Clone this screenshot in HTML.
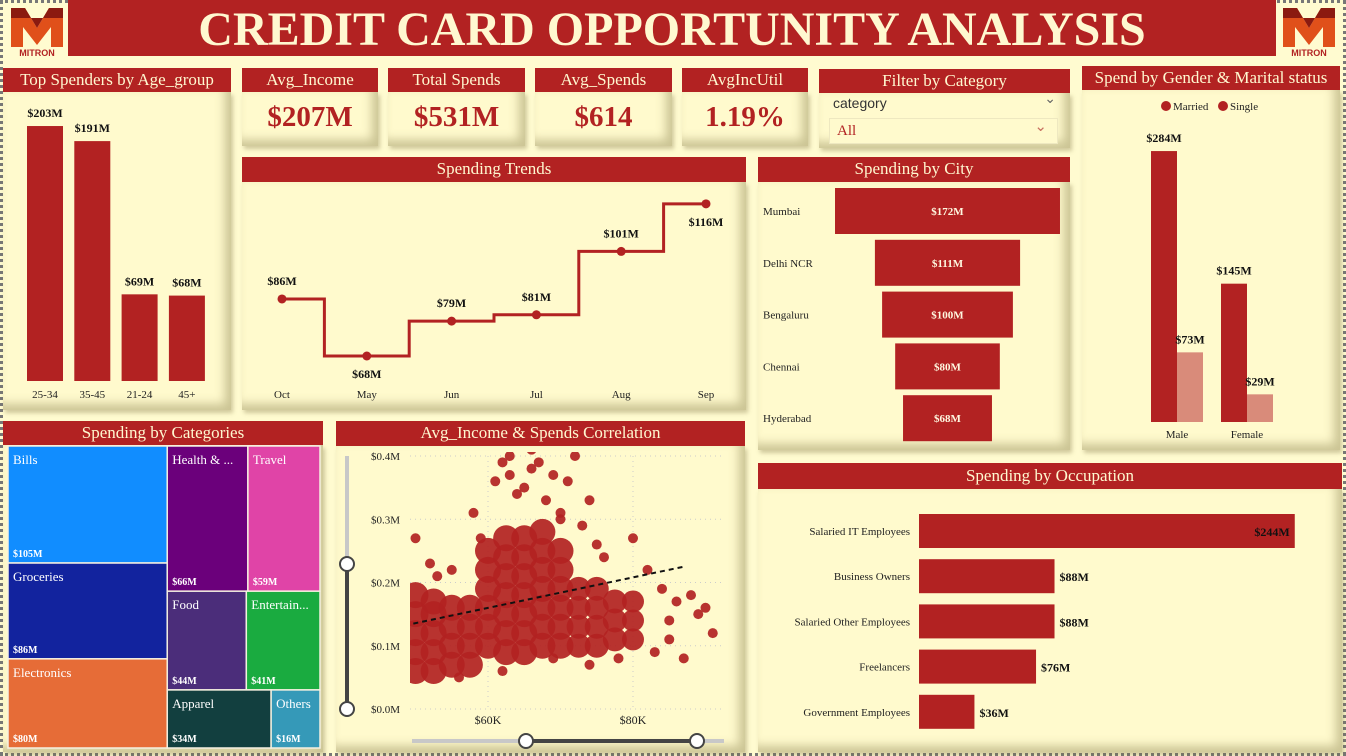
<!DOCTYPE html>
<html><head><meta charset="utf-8"><style>
*{box-sizing:border-box;margin:0;padding:0}
body{width:1346px;height:756px;background:#fffbd0;font-family:"Liberation Serif",serif;position:relative;overflow:hidden}
.frame{position:absolute;left:0;top:0;width:1346px;height:756px;border:3px dotted #777;pointer-events:none}
.hdr{position:absolute;background:#b22222;color:#fff8d0;text-align:center;font-size:17px;line-height:24px;white-space:nowrap;overflow:hidden}
.body{position:absolute;background:#fffacd;box-shadow:inset -6px -6px 10px rgba(140,130,80,.45),2px 3px 4px rgba(120,110,60,.35)}
.kpi{font-size:29px;font-weight:bold;color:#b22222;text-align:center}
svg text{font-family:"Liberation Serif",serif}
</style></head><body>
<div class="frame"></div>
<div style="position:absolute;left:68px;top:0;width:1208px;height:56px;background:#b22222;color:#fff8d0;font-size:48px;font-weight:bold;text-align:center;line-height:60px;white-space:nowrap">CREDIT CARD OPPORTUNITY ANALYSIS</div>
<svg style="position:absolute;left:5px;top:3px" width="64" height="54"><path d="M6 5 L20 5 L32 25 L44 5 L58 5 L58 44 L46 44 L46 24 L32 42 L18 24 L18 44 L6 44Z" fill="#e0501a"/><path d="M6 5 L20 5 L32 25 L44 5 L58 5 L58 15 L6 15Z" fill="#8b1a10"/><text x="32" y="53" font-size="9" font-weight="bold" fill="#b22222" text-anchor="middle" style="font-family:'Liberation Sans',sans-serif">MITRON</text></svg>
<svg style="position:absolute;left:1277px;top:3px" width="64" height="54"><path d="M6 5 L20 5 L32 25 L44 5 L58 5 L58 44 L46 44 L46 24 L32 42 L18 24 L18 44 L6 44Z" fill="#e0501a"/><path d="M6 5 L20 5 L32 25 L44 5 L58 5 L58 15 L6 15Z" fill="#8b1a10"/><text x="32" y="53" font-size="9" font-weight="bold" fill="#b22222" text-anchor="middle" style="font-family:'Liberation Sans',sans-serif">MITRON</text></svg>

<div class="body" style="left:3px;top:92px;width:228px;height:318px"></div>
<div class="hdr" style="left:3px;top:68px;width:228px">Top Spenders by Age_group</div>

<div class="body" style="left:242px;top:92px;width:136px;height:54px"><div class="kpi" style="line-height:50px">$207M</div></div>
<div class="hdr" style="left:242px;top:68px;width:136px">Avg_Income</div>
<div class="body" style="left:388px;top:92px;width:137px;height:54px"><div class="kpi" style="line-height:50px">$531M</div></div>
<div class="hdr" style="left:388px;top:68px;width:137px">Total Spends</div>
<div class="body" style="left:535px;top:92px;width:137px;height:54px"><div class="kpi" style="line-height:50px">$614</div></div>
<div class="hdr" style="left:535px;top:68px;width:137px">Avg_Spends</div>
<div class="body" style="left:682px;top:92px;width:126px;height:54px"><div class="kpi" style="line-height:50px">1.19%</div></div>
<div class="hdr" style="left:682px;top:68px;width:126px">AvgIncUtil</div>

<div class="body" style="left:819px;top:93px;width:251px;height:55px">
<div style="position:absolute;left:14px;top:2px;font-family:'Liberation Sans',sans-serif;font-size:14px;color:#333">category</div>
<div style="position:absolute;right:14px;top:-2px;color:#666;font-size:14px">&#8964;</div>
<div style="position:absolute;left:10px;top:25px;width:229px;height:26px;background:#fffacd;border:1px solid #eee8c0;color:#b22222;font-size:15px;padding-left:7px;line-height:24px">All<span style="position:absolute;right:10px;top:-4px;color:#c87060">&#8964;</span></div>
</div>
<div class="hdr" style="left:819px;top:69px;width:251px">Filter by Category</div>

<div class="body" style="left:1082px;top:90px;width:258px;height:360px"></div>
<div class="hdr" style="left:1082px;top:66px;width:258px">Spend by Gender &amp; Marital status</div>

<div class="body" style="left:242px;top:182px;width:504px;height:228px"></div>
<div class="hdr" style="left:242px;top:157px;width:504px;height:25px">Spending Trends</div>

<div class="body" style="left:758px;top:182px;width:312px;height:268px"></div>
<div class="hdr" style="left:758px;top:157px;width:312px;height:25px">Spending by City</div>

<div class="body" style="left:3px;top:445px;width:320px;height:307px"></div>
<div class="hdr" style="left:3px;top:421px;width:320px">Spending by Categories</div>

<div class="body" style="left:336px;top:446px;width:409px;height:306px"></div>
<div class="hdr" style="left:336px;top:421px;width:409px;height:25px">Avg_Income &amp; Spends Correlation</div>

<div class="body" style="left:758px;top:489px;width:584px;height:263px"></div>
<div class="hdr" style="left:758px;top:463px;width:584px;height:26px;line-height:26px">Spending by Occupation</div>

<svg id="chart" width="1346" height="756" style="position:absolute;left:0;top:0">
<defs><clipPath id="sc"><rect x="410" y="452" width="316" height="262"/></clipPath></defs>
</svg>
<script>
const ageCats=["25-34","35-45","21-24","45+"];
const ageVals=[203,191,69,68];
const trendCats=["Oct","May","Jun","Jul","Aug","Sep"];
const trendVals=[86,68,79,81,101,116];
const cityCats=["Mumbai","Delhi NCR","Bengaluru","Chennai","Hyderabad"];
const cityVals=[172,111,100,80,68];
const genderCats=["Male","Female"];
const marriedVals=[284,145];
const singleVals=[73,29];
const occCats=["Salaried IT Employees","Business Owners","Salaried Other Employees","Freelancers","Government Employees"];
const occVals=[244,88,88,76,36];
const occLabels=["$244M","$88M","$88M","$76M","$36M"];
const treeCats=["Bills","Groceries","Electronics","Health & ...","Travel","Food","Entertain...","Apparel","Others"];
const treeVals=[105,86,80,66,59,44,41,34,16];
const treeColors=["#118dff","#12239e","#e66c37","#6b007b","#e044a7","#4b2d7a","#1aab40","#123f3f","#3599b8"];
const scatterX=[
50,50,50,50,50,52.5,52.5,52.5,52.5,52.5,55,55,55,55,57.5,57.5,57.5,57.5,
60,60,60,60,60,60,62.5,62.5,62.5,62.5,62.5,62.5,62.5,65,65,65,65,65,65,65,67.5,67.5,67.5,67.5,67.5,67.5,67.5,70,70,70,70,70,70,
72.5,72.5,72.5,72.5,75,75,75,75,77.5,77.5,77.5,80,80,80,
62,63,66,64,68,69,71,74,58,70,73,75,80,84,86,88,89,91,85,83,87,78,74,69,62,56,52,53,55,50,66,72,59,82,85,90,61,65,63,67,70,76];
const scatterY=[
0.06,0.09,0.12,0.15,0.18,0.06,0.09,0.12,0.15,0.17,0.07,0.10,0.13,0.16,0.07,0.10,0.13,0.16,
0.10,0.13,0.16,0.19,0.22,0.25,0.09,0.12,0.15,0.18,0.21,0.24,0.27,0.09,0.12,0.15,0.18,0.21,0.24,0.27,0.10,0.13,0.16,0.19,0.22,0.25,0.28,0.10,0.13,0.16,0.19,0.22,0.25,
0.10,0.13,0.16,0.19,0.10,0.13,0.16,0.19,0.11,0.14,0.17,0.11,0.14,0.17,
0.39,0.37,0.38,0.34,0.33,0.37,0.36,0.33,0.31,0.30,0.29,0.26,0.27,0.19,0.17,0.18,0.15,0.12,0.11,0.09,0.08,0.08,0.07,0.08,0.06,0.05,0.23,0.21,0.22,0.27,0.41,0.40,0.27,0.22,0.14,0.16,0.36,0.35,0.40,0.39,0.31,0.24];
const scatterSize=[
13,13,13,13,13,13,13,13,13,13,13,13,13,13,13,13,13,13,
13,13,13,13,13,13,13,13,13,13,13,13,13,13,13,13,13,13,13,13,13,13,13,13,13,13,13,13,13,13,13,13,13,
12,12,12,12,12,12,12,12,12,12,12,11,11,11,
5,5,5,5,5,5,5,5,5,5,5,5,5,5,5,5,5,5,5,5,5,5,5,5,5,5,5,5,5,5,5,5,5,5,5,5,5,5,5,5,5,5];
const trendLineX=[49.7,87];
const trendLineY=[0.135,0.225];
const scatterXTicks=[60,80];
const scatterYTicks=[0,0.1,0.2,0.3,0.4];

const svg=document.getElementById('chart');
const NS="http://www.w3.org/2000/svg";
function mk(tag,attrs,parent){const e=document.createElementNS(NS,tag);for(const k in attrs)e.setAttribute(k,attrs[k]);(parent||svg).appendChild(e);return e;}
function tx(x,y,s,size,fill,anchor,weight){const t=mk('text',{x:x,y:y,'font-size':size,fill:fill,'text-anchor':anchor||'middle','font-weight':weight||'normal'});t.textContent=s;return t;}
const RED="#b22222";

const ageY=v=>381-v*1.256;
ageCats.forEach((c,i)=>{const x=27+i*47.3;
 const r=mk('rect',{x:x,y:ageY(ageVals[i]),width:36,height:381-ageY(ageVals[i]),fill:RED});
 
 
 tx(x+18,ageY(ageVals[i])-9,'$'+ageVals[i]+'M',12,'#111','middle','bold');
 tx(x+18,398,c,11,'#222');});

const tX=i=>282+i*84.8;
const tY=v=>356-(v-68)*3.17;
let d='M'+tX(0)+' '+tY(trendVals[0]);
for(let i=1;i<trendVals.length;i++){const m=(tX(i-1)+tX(i))/2;d+=' H'+m+' V'+tY(trendVals[i])+' H'+tX(i);}
const tl=mk('path',{d:d,fill:'none',stroke:RED,'stroke-width':3});


trendCats.forEach((c,i)=>{const p=mk('circle',{cx:tX(i),cy:tY(trendVals[i]),r:4.5,fill:RED});
 
 
 const last=i===trendCats.length-1;
 const y=i===1?tY(trendVals[i])+22:(last?tY(trendVals[i])+22:tY(trendVals[i])-14);
 tx(last?tX(i):tX(i),y,'$'+trendVals[i]+'M',12,'#111','middle','bold');
 tx(tX(i),398,c,11,'#222');});

cityCats.forEach((c,i)=>{const w=cityVals[i]*1.308,cy=211+i*51.8;
 const r=mk('rect',{x:947.5-w/2,y:cy-23,width:w,height:46,fill:RED});
 
 
 tx(947.5,cy+4,'$'+cityVals[i]+'M',11,'#fff8e0','middle','bold');
 tx(763,cy+4,c,11,'#222','start');});

mk('circle',{cx:1166,cy:106,r:5,fill:RED});tx(1173,110,'Married',11,'#222','start');
mk('circle',{cx:1223,cy:106,r:5,fill:RED});tx(1230,110,'Single',11,'#222','start');
const gY=v=>422-v*0.954;
genderCats.forEach((c,i)=>{const x=1151+i*70;
 const m=mk('rect',{x:x,y:gY(marriedVals[i]),width:26,height:422-gY(marriedVals[i]),fill:RED});
 
 
 const s=mk('rect',{x:x+26,y:gY(singleVals[i]),width:26,height:422-gY(singleVals[i]),fill:'#d98b7a'});
 
 
 tx(x+13,gY(marriedVals[i])-9,'$'+marriedVals[i]+'M',12,'#111','middle','bold');
 tx(x+39,gY(singleVals[i])-9,'$'+singleVals[i]+'M',12,'#111','middle','bold');
 tx(x+26,438,c,11,'#222');});

occCats.forEach((c,i)=>{const cy=531+i*45.2,w=occVals[i]*1.54;
 const r=mk('rect',{x:919,y:cy-17,width:w,height:34,fill:RED});
 
 
 tx(910,cy+4,c,11,'#222','end');
 if(i===0)tx(919+w-5,cy+5,occLabels[i],12,'#111','end','bold');
 else tx(919+w+5,cy+5,occLabels[i],12,'#111','start','bold');});

const tmX=8,tmY=446,tmW=312,tmH=302;
const total=treeVals.reduce((a,b)=>a+b,0);
function cell(i,x,y,w,h){
 const r=mk('rect',{x:x,y:y,width:w,height:h,fill:treeColors[i],stroke:'#f4f0e0','stroke-width':1.5});
 
 
 tx(x+5,y+18,treeCats[i],13,'#fff','start');
 tx(x+5,y+h-6,'$'+treeVals[i]+'M',10,'#fff','start','bold');}
const c1=treeVals[0]+treeVals[1]+treeVals[2];
const w1=tmW*c1/total;let yy=tmY;
for(let i=0;i<3;i++){const h=tmH*treeVals[i]/c1;cell(i,tmX,yy,w1,h);yy+=h;}
const rest=total-c1;const rows=[[3,4],[5,6],[7,8]];yy=tmY;
rows.forEach(rw=>{const s=rw.reduce((a,k)=>a+treeVals[k],0);const h=tmH*s/rest;let xx=tmX+w1;
 rw.forEach(k=>{const w=(tmW-w1)*treeVals[k]/s;cell(k,xx,yy,w,h);xx+=w;});yy+=h;});

const sX=v=>488+(v-60)*7.25;
const sY=v=>709-v*632.5;
scatterYTicks.forEach(t=>{mk('line',{x1:410,x2:725,y1:sY(t),y2:sY(t),stroke:'#ccc','stroke-dasharray':'1 4'});
 tx(400,sY(t)+4,'$'+t.toFixed(1)+'M',11,'#222','end');});
scatterXTicks.forEach(t=>{mk('line',{x1:sX(t),x2:sX(t),y1:456,y2:709,stroke:'#ccc','stroke-dasharray':'1 4'});
 tx(sX(t),724,'$'+t+'K',12,'#222');});
const g=mk('g',{'clip-path':'url(#sc)'});
scatterX.forEach((v,i)=>{const c=mk('circle',{cx:sX(v),cy:sY(scatterY[i]),r:scatterSize[i],fill:RED,'fill-opacity':0.92},g);
 
 });
const trl=mk('line',{x1:sX(trendLineX[0]),y1:sY(trendLineY[0]),x2:sX(trendLineX[1]),y2:sY(trendLineY[1]),stroke:'#111','stroke-width':2,'stroke-dasharray':'5 4'});


mk('line',{x1:347,x2:347,y1:456,y2:564,stroke:'#c8c8c8','stroke-width':4});
mk('line',{x1:347,x2:347,y1:564,y2:709,stroke:'#444','stroke-width':4});
mk('line',{x1:412,x2:724,y1:741,y2:741,stroke:'#c8c8c8','stroke-width':4});
mk('line',{x1:526,x2:697,y1:741,y2:741,stroke:'#444','stroke-width':4});
[[347,564,'y-slider-top'],[347,709,'y-slider-bottom'],[526,741,'x-slider-left'],[697,741,'x-slider-right']].forEach(h=>{
 const c=mk('circle',{cx:h[0],cy:h[1],r:7,fill:'#fff',stroke:'#444','stroke-width':2});
 
 });
</script>
</body></html>
